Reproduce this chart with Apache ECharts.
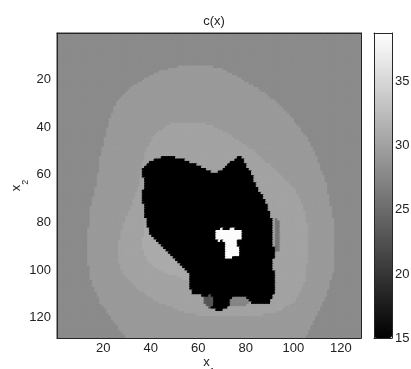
<!DOCTYPE html>
<html>
<head>
<meta charset="utf-8">
<script src="https://cdn.jsdelivr.net/npm/echarts@6/dist/echarts.min.js"></script>
<style>
  html, body { margin: 0; padding: 0; background: #fff; }
  #chart { width: 411px; height: 369px; }
</style>
</head>
<body>
<div id="chart"></div>
<script>
// grid is 128 x 128 cells, labelled 1..128 on both axes
var nCells = 128;
var cellLabels = [];
for (var k = 1; k <= nCells; k++) cellLabels.push(String(k));

// colour range of the colorbar
var cMin = 15;
var cMax = 38.8;

// level of each region
var backgroundLevel = 28.0;
var regionNames  = ['outerRing', 'innerRing', 'glow', 'blob', 'spotA', 'spotB', 'sliver', 'hotSpot'];
var regionLevels = [29.4, 30.2, 31.0, 15.0, 23.0, 27.5, 26.0, 38.5];

// region outlines, as [x1, x2] cell coordinates
var outerRing = [
  [58, 14.4], [64.5, 14.4], [72, 16.5], [78.5, 20.2], [86, 24.5], [92.6, 29.3], [98, 34.5],
  [102.4, 39.8], [106.5, 45.5], [109.4, 51], [111.8, 57.5], [114.3, 64.5], [117.1, 78.5],
  [117.8, 92.6], [117.1, 101], [114.3, 110.8], [109.4, 120.6], [105.2, 129.5],
  [30.7, 129.5], [24.4, 122], [18.7, 113.6], [15.2, 105.2], [13.8, 96.8], [13.8, 85.5],
  [14.5, 75.7], [17.3, 64.5], [18.7, 53.8], [20.8, 45.4], [22.9, 37], [25.8, 30],
  [32.8, 22.9], [42.6, 17.3], [52, 15]
];
var innerRing = [
  [50.9, 38.3], [59.3, 38.2], [66, 39.6], [74.7, 44.2], [82.7, 49.5], [88.8, 55], [95, 60],
  [100.5, 65.5], [104, 72], [105.9, 78.5], [106.6, 92.6], [105.2, 105.2], [101, 113.6],
  [92.6, 118.5], [78.5, 120], [64.5, 120], [53.8, 117.8], [42.6, 113.6], [34.2, 108],
  [28.6, 102.4], [26.5, 95.4], [26.5, 89.8], [28.6, 81.3], [32.1, 72.9], [35.3, 64.5],
  [36.3, 56.6], [38.4, 49.6], [41.2, 44], [46.8, 39.8]
];
var glow = [
  [38.5, 80.5], [37.7, 82.7], [36.7, 88.4], [37.3, 94], [40.5, 98.2], [44.4, 100.5],
  [46.8, 101.7], [52.8, 103.5], [56, 105], [58, 104], [56, 99], [48, 91], [42, 85], [39.5, 81]
];
var blob = [
  [36.85, 58.2], [37.56, 56.78], [39.66, 54.67], [42.47, 53.27], [46.68, 52.57], [52.29, 53.27],
  [57.9, 55.37], [63.52, 58.18], [67.73, 59.58], [70.54, 58.18], [73.35, 55.37], [76.15, 53.27],
  [77.56, 51.87], [78.96, 53.27], [80.36, 56.08], [81.77, 58.18], [83.17, 60.99], [84.57, 65.2],
  [87.38, 69.41], [89.48, 73.62], [90.89, 77.83], [91.59, 82.04], [91.59, 87.66], [92.29, 93.27],
  [91.59, 98.88], [93, 103.1], [93, 107.3], [91.59, 111.5], [90.19, 114.3], [87.38, 115],
  [84.57, 114.3], [80.36, 113.6], [78.96, 112.2], [74.75, 112.9], [72.64, 115.7], [70.54, 117.1],
  [67.73, 117.1], [64.92, 115.7], [63.52, 112.9], [61.42, 110.8], [57.9, 110.1], [56.5, 107.3],
  [56.5, 101.7], [55.1, 100.3], [50.89, 96.08], [46.68, 91.87], [42.47, 87.66], [39.66, 84.85],
  [38.96, 82.04], [38.26, 79.24], [37.56, 76.43], [37.56, 73.62], [36.85, 72.2], [36.15, 70.1],
  [36.85, 66.6], [37.56, 63.8], [36.85, 61]
];
var spotA = [[62.5, 111.5], [65.5, 110.8], [67, 112.5], [66.5, 115.8], [64.5, 116.4], [62.8, 114.8]];
var spotB = [[73.4, 112.5], [76.2, 111.2], [79.6, 111.2], [81.8, 112.5], [81, 114.8], [77.5, 115.7], [74, 115.5]];
var sliver = [[92.3, 79], [94, 79], [94.2, 93], [92.6, 93]];
var hotSpot = [
  [67.73, 83.45], [70.54, 82.74], [71.94, 83.73], [74.05, 82.74], [76.15, 83.17], [78.26, 83.45],
  [78.68, 86.25], [77.56, 87.66], [76.15, 88.36], [76.85, 90.46], [77.98, 91.87], [77.56, 93.97],
  [75.45, 94.67], [73.35, 96.08], [71.24, 95.38], [71.24, 91.87], [71.66, 89.06], [70.54, 87.66],
  [68.43, 88.36], [67.45, 86.96], [68.01, 84.85]
];
var outlines = { outerRing: outerRing, innerRing: innerRing, glow: glow, blob: blob,
  spotA: spotA, spotB: spotB, sliver: sliver, hotSpot: hotSpot };

function inside(px, py, poly) {
  var hit = false;
  for (var i = 0, j = poly.length - 1; i < poly.length; j = i++) {
    var xi = poly[i][0], yi = poly[i][1], xj = poly[j][0], yj = poly[j][1];
    if ((yi > py) !== (yj > py) && px < (xj - xi) * (py - yi) / (yj - yi) + xi) hit = !hit;
  }
  return hit;
}

// same gray ramp as the visualMap, used to stroke each cell so no seams show
function grayOf(v) {
  var g = Math.round(255 * (v - cMin) / (cMax - cMin));
  return 'rgb(' + g + ',' + g + ',' + g + ')';
}

// sample each cell centre against the outlines, later regions on top
var cells = [];
for (var r = 0; r < nCells; r++) {
  for (var c = 0; c < nCells; c++) {
    var v = backgroundLevel;
    for (var n = 0; n < regionNames.length; n++) {
      if (inside(c + 1, r + 1, outlines[regionNames[n]])) v = regionLevels[n];
    }
    cells.push({ value: [c, r, v], itemStyle: { borderColor: grayOf(v), borderWidth: 1 } });
  }
}

var ink = '#262626';
var font = "'Liberation Sans Narrow', 'Liberation Sans', Arial, sans-serif";
var every20 = function (idx) { return (idx + 1) % 20 === 0; };
var subName = {
  x: { fontSize: 13, fontFamily: font, color: '#222', verticalAlign: 'top', lineHeight: 14 },
  s: { fontSize: 9, fontFamily: font, color: '#222', verticalAlign: 'bottom', lineHeight: 20 }
};

var chart = echarts.init(document.getElementById('chart'), null, { renderer: 'canvas' });
var option = {
  animation: false,
  title: {
    text: 'c(x)', left: 209, top: 10, textAlign: 'center',
    textStyle: { fontSize: 13, fontWeight: 'normal', color: '#222', fontFamily: font }
  },
  grid: [
    { left: 57, top: 33, width: 304, height: 305, outerBoundsMode: 'none', containLabel: false },
    { left: 374, top: 33, width: 18, height: 305, outerBoundsMode: 'none', containLabel: false }
  ],
  visualMap: {
    type: 'continuous', min: cMin, max: cMax, seriesIndex: 0,
    inRange: { color: ['#000000', '#ffffff'] },
    calculable: false, left: 374, top: 33, itemWidth: 18, itemHeight: 305, padding: 0,
    hoverLink: false
  },
  xAxis: [
    {
      type: 'category', data: cellLabels, gridIndex: 0, position: 'bottom', z: 10,
      axisLine: { lineStyle: { color: ink } },
      axisTick: { inside: true, length: 4, alignWithLabel: true, interval: every20, lineStyle: { color: ink } },
      axisLabel: { interval: every20, color: '#222', fontSize: 13, fontFamily: font, margin: 4 },
      name: '{x|x}{s|1}', nameLocation: 'middle', nameGap: 18, nameMoveOverlap: false,
      nameTextStyle: { rich: subName }
    },
    {
      type: 'category', data: cellLabels, gridIndex: 0, position: 'top', z: 10,
      axisLine: { lineStyle: { color: ink } },
      axisTick: { inside: true, length: 4, alignWithLabel: true, interval: every20, lineStyle: { color: ink } },
      axisLabel: { show: false }
    },
    {
      type: 'category', data: [''], gridIndex: 1, position: 'bottom', z: 10,
      axisLine: { lineStyle: { color: ink } }, axisTick: { show: false }, axisLabel: { show: false }
    },
    {
      type: 'category', data: [''], gridIndex: 1, position: 'top', z: 10,
      axisLine: { lineStyle: { color: ink } }, axisTick: { show: false }, axisLabel: { show: false }
    }
  ],
  yAxis: [
    {
      type: 'category', data: cellLabels, gridIndex: 0, inverse: true, position: 'left', z: 10,
      axisLine: { lineStyle: { color: ink } },
      axisTick: { inside: true, length: 4, alignWithLabel: true, interval: every20, lineStyle: { color: ink } },
      axisLabel: { interval: every20, color: '#222', fontSize: 13, fontFamily: font, margin: 6 },
      name: '{x|x}{s|2}', nameLocation: 'middle', nameGap: 27, nameRotate: 90, nameMoveOverlap: false,
      nameTextStyle: { rich: subName }
    },
    {
      type: 'category', data: cellLabels, gridIndex: 0, inverse: true, position: 'right', z: 10,
      axisLine: { lineStyle: { color: ink } },
      axisTick: { inside: true, length: 4, alignWithLabel: true, interval: every20, lineStyle: { color: ink } },
      axisLabel: { show: false }
    },
    {
      type: 'value', gridIndex: 1, min: cMin, max: cMax, interval: 5, position: 'right', z: 10,
      axisLine: { show: true, lineStyle: { color: ink } },
      axisTick: { inside: true, length: 3, lineStyle: { color: ink } },
      axisLabel: { color: '#222', fontSize: 13, fontFamily: font, margin: 3, showMaxLabel: false },
      splitLine: { show: false }
    },
    {
      type: 'value', gridIndex: 1, min: cMin, max: cMax, position: 'left', z: 10,
      axisLine: { show: true, lineStyle: { color: ink } },
      axisTick: { show: false }, axisLabel: { show: false }, splitLine: { show: false }
    }
  ],
  series: [
    {
      type: 'heatmap', xAxisIndex: 0, yAxisIndex: 0, data: cells,
      progressive: 0, emphasis: { disabled: true }
    }
  ]
};
chart.setOption(option);
</script>
</body>
</html>
